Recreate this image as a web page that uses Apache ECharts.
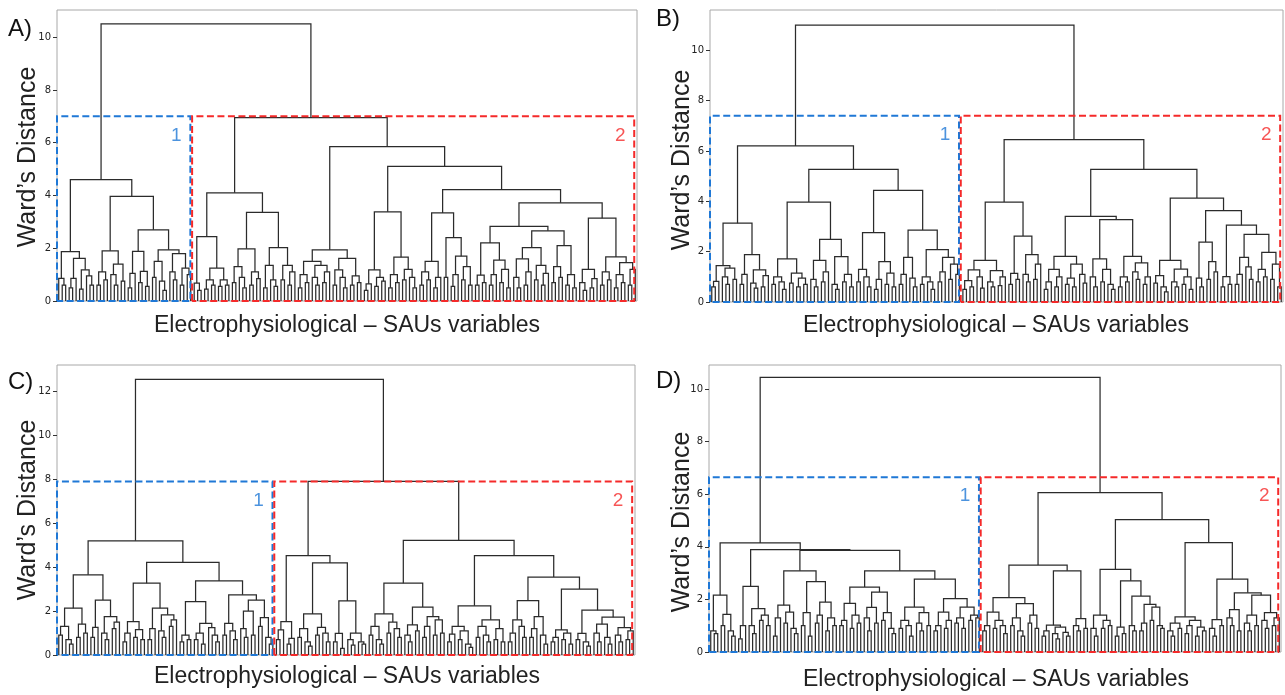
<!DOCTYPE html>
<html><head><meta charset="utf-8">
<script src="https://cdn.jsdelivr.net/npm/echarts@6/dist/echarts.min.js"></script>
<style>html,body{margin:0;padding:0;background:#fff}#c{width:1285px;height:695px}</style>
</head><body><div id="c"></div>
<script>
// ---------- DATA (node = [mergeHeight, left, right], leaf = 0) ----------
const A_C1 = [4.6,
  [1.87,[0.86,0,[0.6,0,0]],[1.62,[0.86,[0.5,0,0],0],[1.18,[0.45,0,0],[0.95,0,[0.6,0,0]]]]],
  [3.97,
    [1.9,[1.1,[0.6,0,0],[0.8,0,0]],[1.4,[1.0,0,[0.6,0,0]],[0.75,0,0]]],
    [2.7,
      [1.88,[1.05,[0.5,0,0],0],[1.12,[0.7,0,0],[0.55,0,0]]],
      [1.94,[1.5,[0.9,0,0],[0.75,0,[0.4,0,0]]],[1.8,[1.1,0,[0.8,0,0]],[1.25,[0.6,0,0],[1.0,0,0]]]]]]];
const A_C2L = [4.1,
  [2.44,[0.68,0,[0.4,0,0]],[1.25,[0.8,[0.45,0,0],[0.6,0,0]],[0.8,[0.55,0,0],[0.6,0,0]]]],
  [3.36,
    [1.98,[1.3,[0.7,0,0],[0.9,0,[0.5,0,0]]],[1.1,[0.6,0,0],[0.85,0,0]]],
    [2.02,[1.35,[0.5,0,0],[0.8,0,[0.55,0,0]]],[1.35,[0.8,0,0],[1.1,[0.6,0,0],0]]]]];
const A_S1 = [1.94,
  [1.5,[1.0,[0.5,0,0],[0.7,0,0]],[1.35,[0.9,0,[0.6,0,0]],[1.1,[0.7,0,0],0]]],
  [1.62,[1.18,[0.6,0,0],[0.9,0,[0.5,0,0]]],[0.95,[0.6,0,0],[0.7,0,0]]]];
const A_R1 = [3.38,
  [1.18,[0.65,[0.4,0,0],0],[0.9,[0.55,0,0],[0.75,0,0]]],
  [1.66,[1.0,[0.5,0,0],[0.7,0,0]],[1.2,[0.8,0,0],[0.9,0,[0.5,0,0]]]]];
const A_Q = [3.34,
  [1.5,[1.1,[0.6,0,0],[0.8,0,0]],[0.9,[0.5,0,0],0]],
  [2.4,[0.9,0,0],[1.7,[1.0,[0.55,0,0],0],[1.3,[0.8,0,0],[0.6,0,0]]]]];
const A_U = [2.83,
  [2.2,[0.98,[0.6,0,0],[0.7,0,0]],[1.55,[1.0,[0.6,0,0],0],[1.2,[0.7,0,0],[0.5,0,0]]]],
  [2.66,
    [2.02,[1.6,[0.9,0,[0.5,0,0]],[1.1,[0.6,0,0],0]],[1.35,[0.8,0,0],[1.05,[0.6,0,0],0]]],
    [2.1,[1.3,[0.7,0,0],[0.9,0,0]],[1.0,[0.6,0,0],[0.5,0,0]]]]];
const A_V = [3.14,
  [1.2,[0.7,0,[0.4,0,0]],[0.85,[0.5,0,0],0]],
  [1.67,[1.1,[0.6,0,0],[0.8,0,0]],[1.45,[1.0,[0.5,0,0],[0.7,0,0]],[1.2,[0.6,0,0],0]]]];
const treeA = [10.5, A_C1, [6.95, A_C2L, [5.85, A_S1, [5.1, A_R1, [4.22, A_Q, [3.72, A_U, A_V]]]]]];

const B_C1 = [6.2,
  [3.13,
    [1.45,[0.82,[0.6,0,0],0],[1.35,[1.0,0,[0.7,0,0]],[0.9,0,0]]],
    [1.88,[1.1,[0.7,0,0],0],[1.28,[0.75,0,[0.55,0,0]],[1.05,[0.6,0,0],0]]]],
  [5.27,
    [3.97,
      [1.71,[1.0,[0.7,0,0],[0.8,0,[0.5,0,0]]],[1.15,[0.75,0,0],[0.95,[0.6,0,0],[0.7,0,0]]]],
      [2.49,
        [1.65,[0.9,0,[0.6,0,0]],[1.2,[0.8,0,0],0]],
        [1.8,[0.7,0,[0.5,0,0]],[1.1,[0.8,0,0],[0.6,0,0]]]]],
    [4.43,
      [2.76,[1.3,[0.8,0,0],[1.0,0,[0.6,0,0]]],[1.6,[0.9,[0.5,0,0],0],[1.15,[0.7,0,0],[0.6,0,0]]]],
      [2.86,
        [1.77,[1.1,[0.7,0,0],0],[0.95,0,[0.6,0,0]]],
        [2.08,
          [1.0,[0.7,0,0],[0.8,0,[0.5,0,0]]],
          [1.77,[1.2,[0.8,0,0],0],[1.5,[0.9,0,0],[1.1,0,0]]]]]]]];
const B_C2 = [6.45,
  [3.97,
    [1.65,[1.28,[0.85,[0.5,0,0],[0.6,0,0]],[1.0,0,[0.55,0,0]]],[1.25,[0.8,0,[0.6,0,0]],[1.0,[0.65,0,0],0]]],
    [2.62,[1.14,[0.7,0,0],[0.9,0,0]],[1.88,[1.1,0,[0.8,0,0]],[1.5,[0.9,0,0],0]]]],
  [5.27,
    [3.4,
      [1.81,[1.3,[0.8,[0.5,0,0],0],[1.0,[0.6,0,0],0]],[1.5,[0.95,[0.7,0,0],[0.6,0,0]],[1.1,0,[0.75,0,0]]]],
      [3.27,
        [1.71,[1.0,0,[0.6,0,0]],[1.3,[0.8,0,0],[0.7,0,[0.5,0,0]]]],
        [1.81,[1.0,[0.6,0,0],[0.8,0,0]],[1.55,[1.2,0,[0.9,0,0]],[1.0,[0.7,0,0],0]]]]],
    [4.13,
      [1.65,[1.05,[0.75,0,0],[0.6,0,[0.4,0,0]]],[1.31,[0.8,0,[0.6,0,0]],[1.0,[0.7,0,0],[0.5,0,0]]]],
      [3.63,
        [2.38,[0.95,0,[0.6,0,0]],[1.6,[0.9,0,0],[1.2,0,0]]],
        [3.05,
          [1.01,[0.6,0,0],[0.7,0,0]],
          [2.69,
            [1.77,[1.1,[0.7,0,0],0],[1.4,0,[0.9,0,0]]],
            [1.97,[1.3,[0.8,0,0],[1.0,0,0]],[1.5,[0.9,0,0],[0.6,0,0]]]]]]]]];
const treeB = [11.0, B_C1, B_C2];

const C_C1 = [5.2,
  [3.65,
    [2.13,[1.3,[0.9,0,0],[0.7,0,[0.5,0,0]]],[1.4,[0.8,0,0],[1.0,0,0]]],
    [2.5,[1.26,[0.8,0,0],0],[1.75,[1.0,0,[0.7,0,0]],[1.5,[1.2,0,0],0]]]],
  [4.22,
    [3.27,
      [1.52,[1.0,[0.6,0,0],0],[1.15,[0.8,0,0],[0.7,0,0]]],
      [2.13,[1.2,[0.7,0,0],0],[1.83,[1.1,0,[0.8,0,0]],[1.6,[1.3,0,0],0]]]],
    [3.37,
      [2.43,[0.9,[0.6,0,0],[0.7,0,0]],[1.44,[1.0,[0.7,0,0],[0.5,0,0]],[1.25,0,[0.9,0,[0.6,0,0]]]]],
      [2.74,
        [1.44,[0.9,0,0],[1.1,0,[0.7,0,0]]],
        [2.5,[2.0,[1.2,0,[0.8,0,0]],[0.9,0,0]],[1.7,[1.3,0,0],[0.8,0,[0.5,0,0]]]]]]]];
const C_C2 = [7.9,
  [4.52,
    [1.52,[1.14,[0.7,0,0],0],[0.76,[0.5,0,0],0]],
    [4.19,
      [1.87,[1.2,[0.8,0,0],[0.6,0,[0.4,0,0]]],[1.26,[0.9,0,0],[1.0,0,[0.6,0,0]]]],
      [2.46,[0.99,[0.6,0,0],[0.3,0,0]],[1.0,[0.7,0,[0.45,0,0]],[0.6,0,[0.5,0,0]]]]]],
  [5.22,
    [3.27,
      [1.87,[1.3,[0.9,0,0],[0.7,0,[0.5,0,0]]],[1.5,[1.0,0,0],[1.2,0,[0.8,0,0]]]],
      [2.18,[1.37,[0.9,0,[0.6,0,0]],[1.1,0,0]],[1.75,[1.3,[0.8,0,0],0],[1.6,[0.9,0,0],[1.0,0,0]]]]],
    [4.52,
      [2.24,[1.3,[0.95,[0.6,0,0],0],[1.1,[0.7,0,0],[0.5,0,[0.35,0,0]]]],[1.6,[1.3,[0.8,0,0],[0.9,0,[0.6,0,0]]],[1.2,[0.7,0,0],[0.6,0,0]]]],
      [3.55,
        [2.48,[1.6,[1.0,[0.6,0,0],0],[1.3,0,[0.8,0,0]]],[1.75,[1.2,[0.8,0,0],0],[0.9,0,[0.5,0,0]]]],
        [3.0,
          [1.14,[0.8,[0.6,0,0],0],[1.0,[0.7,0,0],[0.5,0,0]]],
          [2.04,[0.99,[0.7,0,0],[0.6,0,[0.4,0,0]]],[1.72,[1.4,[1.0,0,[0.6,0,0]],[0.8,0,[0.5,0,0]]],[1.25,[0.9,0,[0.6,0,0]],[1.1,[0.7,0,0],0]]]]]]]]];
const treeC = [12.55, C_C1, C_C2];

const D_C1 = [4.15,
  [2.16,[0.8,0,[0.7,0,0]],[1.43,[1.0,0,0],[0.8,0,[0.6,0,0]]]],
  [3.9,
    [2.5,[1.0,[0.5,0,0],0],[1.65,[1.0,0,[0.7,0,0]],[1.4,[1.2,0,0],[1.0,0,0]]]],
    [3.87,
      [3.09,
        [1.78,[1.3,[0.6,0,0],0],[1.52,[1.1,0,0],[0.9,0,[0.7,0,0]]]],
        [2.68,[1.5,[1.0,0,0],[0.6,0,0]],[1.9,[1.4,[1.1,0,0],0],[1.3,[0.8,0,0],[1.0,0,0]]]]],
      [3.09,
        [2.47,[1.85,[1.2,[1.0,0,0],0],[1.4,[0.9,0,0],[1.1,0,0]]],[2.28,[1.7,[1.3,0,[0.8,0,0]],[1.1,0,0]],[1.5,[1.2,0,0],[0.9,0,[0.7,0,0]]]]],
        [2.77,
          [1.71,[1.2,[0.9,0,0],[1.0,0,[0.6,0,0]]],[1.5,[1.1,0,[0.8,0,0]],[1.0,0,0]]],
          [2.03,[1.52,[1.0,[0.8,0,0],0],[1.2,[0.9,0,0],0]],[1.71,[1.3,[1.1,0,0],[0.9,0,0]],[1.4,[1.2,0,0],[1.3,0,0]]]]]]]]];
const D_C2 = [6.06,
  [3.31,
    [2.07,[1.52,[1.0,[0.8,0,0],0],[1.2,[0.9,0,0],[1.0,0,[0.7,0,0]]]],[1.84,[1.3,[1.0,0,0],[0.8,0,[0.6,0,0]]],[1.4,[1.1,0,0],[0.9,0,0]]]],
    [3.09,
      [1.02,[0.8,[0.6,0,0],0],[0.95,[0.7,0,[0.5,0,0]],[0.75,0,[0.6,0,0]]]],
      [1.27,[1.0,0,[0.8,0,0]],[0.9,0,0]]]],
  [5.04,
    [3.14,
      [1.4,[0.9,0,[0.6,0,0]],[1.2,[0.9,0,0],[1.0,0,0]]],
      [2.71,
        [0.95,[0.6,0,0],[0.7,0,0]],
        [2.13,[1.0,0,[0.8,0,0]],[1.81,[1.1,[0.8,0,0],0],[1.71,[1.2,0,0],[1.0,0,[0.9,0,0]]]]]]],
    [4.16,
      [1.34,[1.1,[0.8,0,[0.6,0,0]],[0.9,0,0]],[1.2,[1.0,[0.7,0,0],0],[0.95,[0.6,0,0],[0.8,0,0]]]],
      [2.77,
        [1.23,[0.9,0,[0.6,0,0]],[1.0,0,0]],
        [2.25,
          [1.61,[1.3,0,[1.0,0,0]],[0.8,0,0]],
          [2.16,[1.4,[1.1,0,[0.8,0,0]],[1.0,0,0]],[1.5,[1.2,0,[0.9,0,0]],[1.3,[1.0,0,0],0]]]]]]]];
const treeD = [10.45, D_C1, D_C2];

const panelLetters = ['A)', 'B)', 'C)', 'D)'];
const yTitle = "Ward\u2019s Distance";
const xTitle = "Electrophysiological \u2013 SAUs variables";
const clusterBoxTop = [7.0, 7.4, 7.9, 6.65];
const yMax = [11.03, 11.6, 13.2, 10.92];
const clusterNames = ['1', '2'];

// ---------- LAYOUT ----------
const trees = [treeA, treeB, treeC, treeD];
const grids = [
  {left: 57, top: 10, width: 580, height: 291},
  {left: 710, top: 10, width: 573, height: 292},
  {left: 57, top: 365, width: 578, height: 290},
  {left: 709, top: 365, width: 572, height: 287}
];
const letterPos = [[8, 30], [656, 20], [8, 383], [656, 382]];
const yTitlePos = [[28, 157], [682, 160], [28, 510], [682, 522]];
const xTitlePos = [[347, 326], [996, 326], [347, 677], [996, 680]];

function countLeaves(n) { return n === 0 ? 1 : countLeaves(n[1]) + countLeaves(n[2]); }
function buildLines(tree) {
  let idx = 0; const out = [];
  function rec(node) {
    if (node === 0) { const x = 5 + 10 * idx; idx++; return [x, 0]; }
    const a = rec(node[1]), b = rec(node[2]), h = node[0];
    out.push({coords: [[a[0], a[1]], [a[0], h], [b[0], h], [b[0], b[1]]]});
    return [(a[0] + b[0]) / 2, h];
  }
  rec(tree);
  return out;
}

const BLUE = '#1f78d6', RED = '#f52a2a';
const option = {animation: false, grid: [], xAxis: [], yAxis: [], series: [], graphic: []};
trees.forEach((tree, i) => {
  const N = countLeaves(tree), n1 = countLeaves(tree[1]);
  const xmax = 10 * N;
  option.grid.push(Object.assign({show: true, borderColor: '#a8a8a8', borderWidth: 1, containLabel: false}, grids[i]));
  option.xAxis.push({type: 'value', gridIndex: i, min: 0, max: xmax, show: false});
  option.yAxis.push({type: 'value', gridIndex: i, min: 0, max: yMax[i], interval: 2,
    axisLine: {show: false}, splitLine: {show: false},
    axisTick: {show: true, length: 4, lineStyle: {color: '#333'}},
    axisLabel: {fontSize: 10, color: '#222', fontFamily: 'DejaVu Sans', margin: 6,
      showMaxLabel: false,
      formatter: v => (Math.abs(v / 2 - Math.round(v / 2)) < 1e-9 ? String(v) : '')}});
  option.series.push({type: 'lines', coordinateSystem: 'cartesian2d', xAxisIndex: i, yAxisIndex: i,
    polyline: true, silent: true, data: buildLines(tree),
    lineStyle: {color: '#2b2b2b', width: 1.25, opacity: 1}});
  const top = clusterBoxTop[i];
  const bR = 10 * n1 - 6, rL = 10 * n1 - 1, rR = xmax - 8;
  option.series.push({type: 'lines', coordinateSystem: 'cartesian2d', xAxisIndex: i, yAxisIndex: i,
    polyline: true, silent: true, clip: false, z: 5,
    data: [{coords: [[0, 0], [0, top], [bR, top], [bR, 0], [0, 0]]}],
    lineStyle: {color: BLUE, width: 2, type: [7, 3.5], opacity: 1}});
  option.series.push({type: 'lines', coordinateSystem: 'cartesian2d', xAxisIndex: i, yAxisIndex: i,
    polyline: true, silent: true, clip: false, z: 5,
    data: [{coords: [[rL, 0], [rL, top], [rR, top], [rR, 0], [rL, 0]]}],
    lineStyle: {color: RED, width: 2, type: [7, 3.5], opacity: 1}});
  option.series.push({type: 'scatter', xAxisIndex: i, yAxisIndex: i, symbolSize: 2, silent: true, z: 6,
    itemStyle: {color: 'rgba(0,0,0,0)'},
    label: {show: true, position: 'inside', offset: [-14, 19], fontSize: 19, fontFamily: 'Liberation Sans',
      formatter: p => p.data.name, color: p => p.data.c},
    data: [
      {name: clusterNames[0], value: [bR, top], label: {color: BLUE}},
      {name: clusterNames[1], value: [rR, top], label: {color: RED}}
    ]});
  option.graphic.push({type: 'text', left: letterPos[i][0], top: letterPos[i][1] - 13,
    style: {text: panelLetters[i], font: '24px "Liberation Sans"', fill: '#111'}});
  option.graphic.push({type: 'text', x: yTitlePos[i][0], y: yTitlePos[i][1], rotation: Math.PI / 2,
    style: {text: yTitle, font: '25px "Liberation Sans"', fill: '#222', textAlign: 'center', textVerticalAlign: 'middle'}});
  option.graphic.push({type: 'text', x: xTitlePos[i][0], y: xTitlePos[i][1],
    style: {text: xTitle, font: '23px "Liberation Sans"', fill: '#222', textAlign: 'center', textVerticalAlign: 'middle'}});
});
const chart = echarts.init(document.getElementById('c'), null, {renderer: 'canvas'});
chart.setOption(option);
</script></body></html>
